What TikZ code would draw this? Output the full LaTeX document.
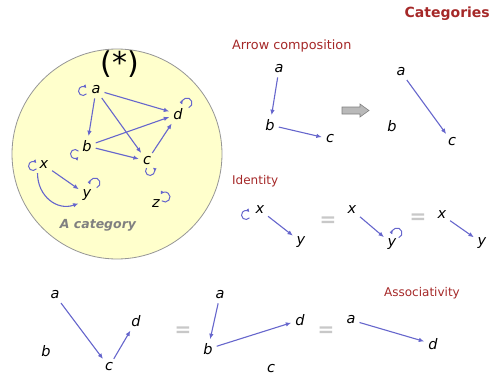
\documentclass[tikz,border=0pt]{standalone}
\usepackage{fontspec}
\setmainfont{DejaVu Sans}
\usetikzlibrary{arrows.meta}
\definecolor{arcol}{RGB}{102,102,204}
\definecolor{ttl}{RGB}{165,40,40}
\definecolor{circfill}{RGB}{255,255,204}
\definecolor{circline}{RGB}{150,150,150}
\definecolor{eqcol}{RGB}{200,200,200}
\definecolor{catgray}{RGB}{128,128,128}
\tikzset{
  lt/.style={font=\fontsize{14.5}{14.5}\selectfont\itshape, inner sep=2pt},
  ar/.style={draw=arcol, line width=1.1pt, shorten <=2pt, shorten >=2pt, -{Latex[length=5.5pt,width=4.5pt]}},
  lp/.style={draw=arcol, line width=1pt, -{Latex[length=3.5pt,width=3.5pt]}},
  sub/.style={font=\fontsize{12}{12}\selectfont, text=ttl, inner sep=0pt},
  eqs/.style={font=\fontsize{20}{20}\selectfont\bfseries, text=eqcol, inner sep=0pt},
}
\begin{document}
\begin{tikzpicture}[x=1pt,y=1pt]
\useasboundingbox (0,0) rectangle (496,376);
% title
\node[font=\fontsize{14}{14}\selectfont\bfseries, text=ttl, anchor=east, inner sep=0pt] (title) at (490,362) {Categories};
% circle
\draw[fill=circfill, draw=circline, line width=0.8pt] (117,222) circle[radius=105];
\node[font=\rmfamily\fontsize{30}{30}\selectfont, inner sep=0pt] (star) at (120,312) {(*)};
\node[lt] (ca) at (96,286) {a};
\node[lt] (cd) at (178,262) {d};
\node[lt] (cb) at (87,230) {b};
\node[lt] (cc) at (147,215) {c};
\node[lt] (cx) at (44,211) {x};
\node[lt] (cy) at (87,181) {y};
\node[lt] (cz) at (156,172) {z};
\node[font=\fontsize{12.5}{12.5}\selectfont\bfseries\itshape, text=catgray, inner sep=0pt] (catl) at (98,151) {A category};
\draw[ar] (ca) -- (cd);
\draw[ar] (ca) -- (cb);
\draw[ar] (ca) -- (cc);
\draw[ar] (cb) -- (cd);
\draw[ar] (cb) -- (cc);
\draw[ar] (cc) -- (cd);
\draw[ar] (cx) -- (cy);
\draw[ar] (cx.south west) to[out=-90, in=-160, looseness=1.2] (cy.south west);
% loops
\coordinate (la) at (83,285);
\coordinate (ld) at (187,273);
\coordinate (lb) at (75,222);
\coordinate (lc) at (150,205);
\coordinate (lx) at (33,210);
\coordinate (ly) at (95,193);
\coordinate (lz) at (165,179);
\coordinate (lix) at (246,161);
\coordinate (liy) at (397,143);
\draw[lp] ([shift={(-40:4.5)}]la) arc[start angle=-40, end angle=-320, radius=4.5];
\draw[lp] ([shift={(-40:4.5)}]lx) arc[start angle=-40, end angle=-320, radius=4.5];
\draw[lp] ([shift={(-40:4.5)}]lix) arc[start angle=-40, end angle=-320, radius=4.5];
\draw[lp] ([shift={(-70:5)}]ld) arc[start angle=-70, end angle=200, radius=5];
\draw[lp] ([shift={(-70:5)}]ly) arc[start angle=-70, end angle=200, radius=5];
\draw[lp] ([shift={(-70:5)}]liy) arc[start angle=-70, end angle=200, radius=5];
\draw[lp] ([shift={(40:4.5)}]lb) arc[start angle=40, end angle=320, radius=4.5];
\draw[lp] ([shift={(140:4.5)}]lc) arc[start angle=140, end angle=410, radius=4.5];
\draw[lp] ([shift={(-130:5)}]lz) arc[start angle=-130, end angle=150, radius=5];
% arrow composition
\node[sub, font=\fontsize{12.8}{12.8}\selectfont, anchor=west] (compt) at (232,330) {Arrow composition};
\node[lt] (pa) at (279,307) {a};
\node[lt] (pb) at (270,251) {b};
\node[lt] (pc) at (330,237) {c};
\draw[ar] (pa) -- (pb);
\draw[ar] (pb) -- (pc);
\draw[fill=gray!55, draw=gray, line width=0.6pt] (342,262) -- (360,262) -- (360,259) -- (369,265.5) -- (360,272) -- (360,269) -- (342,269) -- cycle;
\node[lt] (qa) at (401,304) {a};
\node[lt] (qb) at (392,250) {b};
\node[lt] (qc) at (452,234) {c};
\draw[ar] (qa) -- (qc);
% identity
\node[sub, anchor=west] (idt) at (232,195) {Identity};
\node[lt] (ix1) at (260,166) {x};
\node[lt] (iy1) at (301,134) {y};
\node[eqs] (eq1) at (328,154) {=};
\node[lt] (ix2) at (352,166) {x};
\node[lt] (iy2) at (392,132) {y};
\node[eqs] (eq2) at (418,157) {=};
\node[lt] (ix3) at (442,161) {x};
\node[lt] (iy3) at (482,133) {y};
\draw[ar] (ix1) -- (iy1);
\draw[ar] (ix2) -- (iy2);
\draw[ar] (ix3) -- (iy3);
% associativity
\node[sub, anchor=center] (ast) at (422,83) {Associativity};
\node[lt] (a1) at (55,81) {a};
\node[lt] (b1) at (46,25) {b};
\node[lt] (c1) at (109,9) {c};
\node[lt] (d1) at (136,55) {d};
\draw[ar] (a1) -- (c1);
\draw[ar] (c1) -- (d1);
\node[eqs] (eq3) at (183,44) {=};
\node[lt] (a2) at (220,81) {a};
\node[lt] (b2) at (208,27) {b};
\node[lt] (c2) at (271,7) {c};
\node[lt] (d2) at (300,56) {d};
\draw[ar] (a2) -- (b2);
\draw[ar] (b2) -- (d2);
\node[eqs] (eq4) at (326,44) {=};
\node[lt] (a3) at (351,56) {a};
\node[lt] (d3) at (433,32) {d};
\draw[ar] (a3) -- (d3);
\end{tikzpicture}
\end{document}
